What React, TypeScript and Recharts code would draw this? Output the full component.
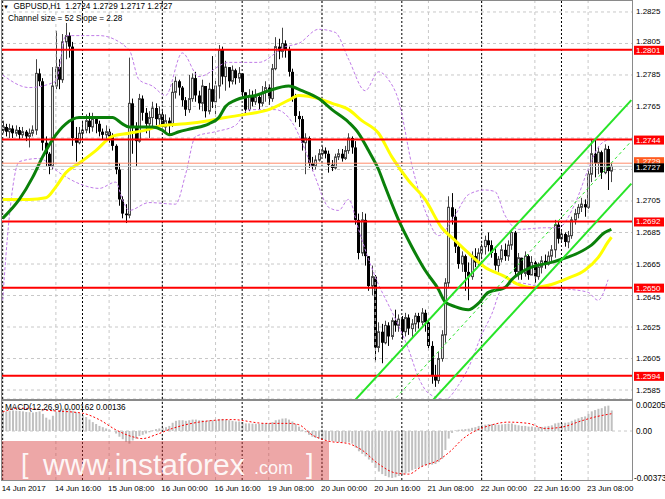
import React from 'react';
import { Bar, CartesianGrid, ComposedChart, Line, ReferenceLine, XAxis, YAxis } from 'recharts';

const FONT = "'Liberation Sans', Arial, sans-serif";

// hourly GBPUSD bars, 14 Jun 00:00 .. 23 Jun 13:00 (open = previous close)
const firstOpen = 1.275;
const closes = [
  1.2752, 1.2749, 1.2751, 1.2748, 1.2750, 1.2747, 1.2749, 1.2746, 1.2748, 1.2750,
  1.2786, 1.2781, 1.2742, 1.2735, 1.2727, 1.2778, 1.2790, 1.2782, 1.2806, 1.2810,
  1.2803, 1.2745, 1.2742, 1.2748, 1.2750, 1.2756, 1.2752, 1.2757, 1.2754, 1.2749,
  1.2747, 1.2749, 1.2746, 1.2740, 1.2725, 1.2706, 1.2697, 1.2696, 1.2767, 1.2752,
  1.2743, 1.2770, 1.2761, 1.2754, 1.2758, 1.2764, 1.2757, 1.2760, 1.2752, 1.2756,
  1.2754, 1.2774, 1.2781, 1.2777, 1.2769, 1.2763, 1.2770, 1.2783, 1.2772, 1.2767,
  1.2778, 1.2762, 1.2776, 1.2768, 1.2778, 1.2801, 1.2784, 1.2790, 1.2781, 1.2788,
  1.2783, 1.2786, 1.2774, 1.2763, 1.2772, 1.2768, 1.2771, 1.2767, 1.2774, 1.2777,
  1.2770, 1.2789, 1.2803, 1.2800, 1.2805, 1.2801, 1.2787, 1.2771, 1.2759, 1.2757,
  1.2742, 1.2745, 1.2729, 1.2727, 1.2731, 1.2735, 1.2737, 1.2735, 1.2728, 1.2726,
  1.2733, 1.2735, 1.2732, 1.2737, 1.2745, 1.2739, 1.2693, 1.2672, 1.2693, 1.2670,
  1.2651, 1.2657, 1.2612, 1.2622, 1.2615, 1.2626, 1.2619, 1.2629, 1.2626, 1.2630,
  1.2622, 1.2631, 1.2624, 1.2627, 1.2632, 1.2628, 1.2634, 1.2628, 1.2613, 1.2594,
  1.2591, 1.2605, 1.2620, 1.2653, 1.2701, 1.2695, 1.2676, 1.2665, 1.2670, 1.2660,
  1.2657, 1.2670, 1.2666, 1.2672, 1.2676, 1.2680, 1.2677, 1.2672, 1.2664, 1.2668,
  1.2674, 1.2670, 1.2677, 1.2685, 1.2660, 1.2669, 1.2659, 1.2670, 1.2658, 1.2666,
  1.2657, 1.2663, 1.2667, 1.2665, 1.2670, 1.2674, 1.2690, 1.2681, 1.2684, 1.2679,
  1.2683, 1.2693, 1.2697, 1.2701, 1.2703, 1.2701, 1.2722, 1.2735, 1.2729, 1.2736,
  1.2723, 1.2738, 1.2724, 1.2727,
];
const highs = [
  1.2756, 1.2754, 1.2754, 1.2753, 1.2753, 1.2752, 1.2752, 1.2750, 1.2751, 1.2753,
  1.2795, 1.2789, 1.2783, 1.2746, 1.2736, 1.2790, 1.2813, 1.2795, 1.2811, 1.2818,
  1.2812, 1.2806, 1.2752, 1.2752, 1.2756, 1.2760, 1.2761, 1.2761, 1.2758, 1.2756,
  1.2751, 1.2753, 1.2751, 1.2748, 1.2741, 1.2729, 1.2708, 1.2703, 1.2796, 1.2770,
  1.2755, 1.2773, 1.2772, 1.2764, 1.2762, 1.2768, 1.2767, 1.2765, 1.2762, 1.2760,
  1.2758, 1.2780, 1.2784, 1.2782, 1.2778, 1.2771, 1.2785, 1.2786, 1.2787, 1.2775,
  1.2782, 1.2778, 1.2780, 1.2797, 1.2782, 1.2804, 1.2803, 1.2794, 1.2790, 1.2791,
  1.2789, 1.2790, 1.2786, 1.2774, 1.2776, 1.2775, 1.2776, 1.2773, 1.2778, 1.2781,
  1.2779, 1.2792, 1.2809, 1.2808, 1.2815, 1.2807, 1.2803, 1.2789, 1.2773, 1.2762,
  1.2759, 1.2748, 1.2746, 1.2733, 1.2734, 1.2738, 1.2740, 1.2739, 1.2737, 1.2731,
  1.2735, 1.2738, 1.2738, 1.2740, 1.2748, 1.2746, 1.2743, 1.2697, 1.2698, 1.2697,
  1.2670, 1.2664, 1.2658, 1.2628, 1.2627, 1.2629, 1.2628, 1.2631, 1.2636, 1.2633,
  1.2632, 1.2634, 1.2633, 1.2630, 1.2634, 1.2634, 1.2637, 1.2636, 1.2630, 1.2616,
  1.2601, 1.2609, 1.2623, 1.2656, 1.2708, 1.2710, 1.2700, 1.2678, 1.2673, 1.2671,
  1.2666, 1.2673, 1.2675, 1.2675, 1.2678, 1.2683, 1.2685, 1.2680, 1.2676, 1.2670,
  1.2677, 1.2678, 1.2680, 1.2687, 1.2686, 1.2672, 1.2669, 1.2673, 1.2671, 1.2670,
  1.2667, 1.2666, 1.2670, 1.2671, 1.2673, 1.2677, 1.2693, 1.2692, 1.2686, 1.2685,
  1.2686, 1.2695, 1.2700, 1.2703, 1.2707, 1.2706, 1.2725, 1.2744, 1.2744, 1.2739,
  1.2737, 1.2741, 1.2740, 1.2729,
];
const lows = [
  1.2748, 1.2746, 1.2745, 1.2745, 1.2746, 1.2744, 1.2745, 1.2743, 1.2739, 1.2746,
  1.2747, 1.2778, 1.2737, 1.2727, 1.2722, 1.2725, 1.2776, 1.2776, 1.2780, 1.2795,
  1.2796, 1.2740, 1.2730, 1.2741, 1.2745, 1.2748, 1.2748, 1.2749, 1.2748, 1.2746,
  1.2744, 1.2743, 1.2742, 1.2737, 1.2722, 1.2702, 1.2694, 1.2691, 1.2694, 1.2735,
  1.2727, 1.2742, 1.2756, 1.2748, 1.2745, 1.2752, 1.2753, 1.2752, 1.2749, 1.2748,
  1.2747, 1.2752, 1.2770, 1.2772, 1.2765, 1.2759, 1.2761, 1.2768, 1.2768, 1.2763,
  1.2762, 1.2758, 1.2760, 1.2764, 1.2760, 1.2770, 1.2779, 1.2775, 1.2777, 1.2779,
  1.2779, 1.2780, 1.2771, 1.2760, 1.2762, 1.2765, 1.2766, 1.2763, 1.2765, 1.2768,
  1.2766, 1.2768, 1.2788, 1.2795, 1.2796, 1.2796, 1.2784, 1.2768, 1.2755, 1.2752,
  1.2737, 1.2722, 1.2726, 1.2724, 1.2725, 1.2730, 1.2733, 1.2732, 1.2723, 1.2724,
  1.2725, 1.2731, 1.2730, 1.2731, 1.2735, 1.2735, 1.2690, 1.2668, 1.2670, 1.2664,
  1.2648, 1.2645, 1.2603, 1.2609, 1.2602, 1.2614, 1.2613, 1.2617, 1.2622, 1.2622,
  1.2617, 1.2619, 1.2620, 1.2618, 1.2622, 1.2624, 1.2626, 1.2622, 1.2610, 1.2589,
  1.2587, 1.2589, 1.2603, 1.2615, 1.2650, 1.2690, 1.2672, 1.2662, 1.2660, 1.2648,
  1.2642, 1.2655, 1.2663, 1.2664, 1.2669, 1.2671, 1.2673, 1.2669, 1.2661, 1.2660,
  1.2666, 1.2667, 1.2667, 1.2674, 1.2657, 1.2655, 1.2655, 1.2657, 1.2655, 1.2658,
  1.2653, 1.2655, 1.2659, 1.2662, 1.2664, 1.2666, 1.2669, 1.2678, 1.2679, 1.2676,
  1.2675, 1.2681, 1.2690, 1.2694, 1.2698, 1.2695, 1.2700, 1.2717, 1.2720, 1.2722,
  1.2719, 1.2722, 1.2712, 1.2717,
];

// moving averages and bands at sample bars: [bar, price]
const greenMa = [
  [0, 1.2694], [5, 1.2706], [9, 1.272], [12, 1.2733], [15, 1.2744], [19, 1.2754], [23, 1.2758],
  [29, 1.2758], [33, 1.2758], [36, 1.2754], [38, 1.2752], [45, 1.2752], [48, 1.275], [50, 1.2747],
  [53, 1.2749], [57, 1.2751], [62, 1.2754], [65, 1.2758], [67, 1.2765], [70, 1.2769], [73, 1.2771],
  [76, 1.2772], [80, 1.2775], [86, 1.2778], [90, 1.2775], [95, 1.277], [99, 1.2763], [104, 1.2755],
  [107, 1.2748], [110, 1.2737], [113, 1.2725], [115, 1.2714], [119, 1.2693], [123, 1.2676],
  [127, 1.2661], [131, 1.2649], [133, 1.2641], [136, 1.2638], [140, 1.2636], [143, 1.264],
  [146, 1.2647], [151, 1.265], [153, 1.2655], [159, 1.2663], [165, 1.2666], [168, 1.2668],
  [173, 1.2672], [177, 1.2677], [181, 1.2685], [183, 1.2687],
];
const yellowMa = [
  [0, 1.2706], [8, 1.2706], [13, 1.2707], [16, 1.2714], [19, 1.2723], [23, 1.2729], [28, 1.2737],
  [33, 1.2746], [38, 1.2748], [43, 1.275], [48, 1.2753], [55, 1.2754], [62, 1.2756], [67, 1.2758],
  [73, 1.276], [76, 1.2761], [80, 1.2763], [86, 1.2769], [89, 1.2772], [95, 1.277], [99, 1.2767],
  [104, 1.2763], [108, 1.2756], [113, 1.2748], [117, 1.2733], [122, 1.2718], [127, 1.2706],
  [132, 1.2688], [136, 1.268], [140, 1.2672], [145, 1.2663], [151, 1.2657], [155, 1.2652],
  [159, 1.265], [165, 1.2652], [170, 1.2656], [175, 1.2661], [179, 1.2669], [182, 1.2679], [183, 1.2682],
];
const bandUpper = [
  [0, 1.2785], [8, 1.2777], [16, 1.2781], [19, 1.281], [29, 1.281], [38, 1.2801], [41, 1.2782],
  [45, 1.2778], [49, 1.2772], [54, 1.2799], [59, 1.2784], [68, 1.2793], [77, 1.2793], [85, 1.2803],
  [89, 1.2805], [95, 1.2814], [100, 1.2812], [104, 1.2795], [109, 1.2775], [113, 1.2787],
  [116, 1.2782], [119, 1.2769], [123, 1.2728], [127, 1.2699], [131, 1.2683], [136, 1.2696],
  [140, 1.2709], [145, 1.2712], [148, 1.2711], [151, 1.2696], [155, 1.2687], [163, 1.2688],
  [167, 1.2688], [172, 1.2703], [176, 1.2725], [179, 1.2739], [182, 1.2744],
];
const bandLower = [
  [0, 1.2642], [2, 1.2695], [5, 1.273], [11, 1.2732], [17, 1.2723], [23, 1.2716], [29, 1.2713],
  [34, 1.2717], [36, 1.2706], [38, 1.2699], [44, 1.2704], [52, 1.2703], [55, 1.2722], [58, 1.2746],
  [64, 1.2749], [70, 1.2753], [74, 1.2763], [82, 1.2763], [87, 1.2755], [91, 1.2737], [94, 1.272],
  [98, 1.2701], [101, 1.2699], [104, 1.2706], [107, 1.2687], [110, 1.2668], [113, 1.2652],
  [116, 1.2639], [119, 1.2626], [122, 1.2611], [125, 1.2593], [128, 1.2583], [133, 1.2579],
  [137, 1.2588], [140, 1.2599], [144, 1.262], [147, 1.2633], [150, 1.2649], [155, 1.2653],
  [163, 1.265], [170, 1.2649], [176, 1.2647], [179, 1.2642], [182, 1.2655],
];
// regression channel end points
const chanUpper = [[100, 1.2565], [189, 1.2769]];
const chanMid = [[100, 1.2538], [189, 1.2743]];
const chanLower = [[100, 1.2511], [189, 1.2716]];

const macdHist = [
  0.0015, 0.00155, 0.0016, 0.00162, 0.0016, 0.00158, 0.00155, 0.0015, 0.00148, 0.00145,
  0.0015, 0.00155, 0.00135, 0.00105, 0.0009, 0.0012, 0.0015, 0.00165, 0.00175, 0.0018,
  0.00178, 0.0016, 0.0015, 0.0014, 0.00125, 0.0011, 0.0009, 0.0007, 0.00055, 0.0004,
  0.0003, 0.0002, 0.0001, 0.0, -0.0002, -0.00045, -0.00065, -0.00085, -0.001, -0.00075,
  -0.0006, -0.0004, -0.0003, -0.0002, -0.0001, 0.00005, 0.00015, 0.0002, 0.00025, 0.0003,
  0.0004, 0.00065, 0.0008, 0.00085, 0.00085, 0.0008, 0.00085, 0.0009, 0.0009, 0.00085,
  0.00085, 0.0008, 0.00085, 0.00085, 0.00085, 0.00095, 0.00095, 0.0009, 0.00085, 0.0008,
  0.00075, 0.00075, 0.0007, 0.0006, 0.0006, 0.00058, 0.00058, 0.00055, 0.0006, 0.0006,
  0.00062, 0.0007, 0.00085, 0.0009, 0.00098, 0.001, 0.0009, 0.00075, 0.00055, 0.00035,
  0.0001, -0.0001, -0.0003, -0.00045, -0.00055, -0.0006, -0.00065, -0.0007, -0.00075, -0.0008,
  -0.00085, -0.00088, -0.0009, -0.0009, -0.0009, -0.001, -0.0013, -0.0016, -0.0018, -0.002,
  -0.00225, -0.0025, -0.0029, -0.0032, -0.0034, -0.00355, -0.00365, -0.0037, -0.00365, -0.00355,
  -0.00345, -0.00335, -0.00325, -0.0031, -0.003, -0.0029, -0.0028, -0.0027, -0.00265, -0.00265,
  -0.0026, -0.00245, -0.0022, -0.0015, -0.0006, -0.00015, 0.00005, 0.0001, 0.00012, 0.00015,
  0.00018, 0.00025, 0.0003, 0.0004, 0.00045, 0.0005, 0.00055, 0.00055, 0.00052, 0.0005,
  0.00052, 0.00055, 0.00058, 0.0006, 0.0005, 0.00045, 0.0004, 0.0004, 0.00035, 0.00035,
  0.0003, 0.0003, 0.00032, 0.00035, 0.0004, 0.00045, 0.0006, 0.00065, 0.00065, 0.00065,
  0.00068, 0.0008, 0.0009, 0.001, 0.0011, 0.00115, 0.00135, 0.00155, 0.00165, 0.00175,
  0.0018, 0.00195, 0.002, 0.00162,
];
const macdSignal = [
  [0, 0.0015], [5, 0.0018], [15, 0.0016], [24, 0.0014], [29, 0.0009], [34, 0.0001], [39, -0.00045],
  [42, -0.0006], [46, -0.0003], [51, 0.0002], [59, 0.0007], [69, 0.0009], [79, 0.0006], [86, 0.0006],
  [89, 0.0005], [93, -0.0003], [98, -0.0008], [104, -0.001], [108, -0.0015], [113, -0.0026],
  [118, -0.0033], [122, -0.0034], [126, -0.0028], [131, -0.0023], [135, -0.0015], [138, -0.0007],
  [142, 0.0], [146, 0.0004], [152, 0.0007], [158, 0.0006], [163, 0.0002], [168, 0.0003],
  [174, 0.0008], [178, 0.0011], [183, 0.00136],
];

const dateLabels = [
  '14 Jun 2017', '14 Jun 16:00', '15 Jun 08:00', '16 Jun 00:00', '16 Jun 16:00', '19 Jun 08:00',
  '20 Jun 00:00', '20 Jun 16:00', '21 Jun 08:00', '22 Jun 00:00', '22 Jun 16:00', '23 Jun 08:00',
];
const priceTicks = [1.2585, 1.2605, 1.2625, 1.2645, 1.2665, 1.2685, 1.2705, 1.2725, 1.2745, 1.2765, 1.2785, 1.2805, 1.2825];
// tick labels that sit under a price tag on the right scale
const coveredTicks = [1.2725, 1.2745];
const levels = [1.2801, 1.2744, 1.2692, 1.265, 1.2594];
const macdTicks = [0.00205, 0, -0.00373];
const gridBars = [0, 16, 32, 48, 64, 80, 96, 112, 128, 144, 160, 176];
const dayBars = [0, 24, 48, 72, 96, 120, 144, 168];

const SLOTS = 190;
const rows: Record<string, any>[] = Array.from({ length: SLOTS }, (_, i) => {
  if (i >= closes.length) return { i };
  const o = i === 0 ? firstOpen : closes[i - 1];
  return { i, o, h: highs[i], l: lows[i], c: closes[i], range: [lows[i], highs[i]], hist: macdHist[i] };
});
const put = (pts: number[][], key: string) => pts.forEach(([i, v]) => { rows[i][key] = v; });
put(greenMa, 'ma1');
put(yellowMa, 'ma2');
put(bandUpper, 'bbU');
put(bandLower, 'bbL');
put(chanUpper, 'chU');
put(chanMid, 'chM');
put(chanLower, 'chL');
put(macdSignal, 'sig');

function Candle(props: any) {
  const { x, width, payload } = props;
  let { y, height } = props;
  if (!payload || payload.o == null || y == null) return null;
  if (height < 0) { y += height; height = -height; }
  const { o, h, l, c } = payload;
  const k = height / Math.max(h - l, 1e-7);
  const cx = Math.round(x + width / 2);
  const top = y + (h - Math.max(o, c)) * k;
  const bot = y + (h - Math.min(o, c)) * k;
  const up = c >= o;
  return (
    <g>
      <line x1={cx + 0.5} x2={cx + 0.5} y1={y} y2={y + height} stroke={up ? '#444' : '#000'} strokeWidth={1} />
      {up ? (
        <rect x={cx - 0.5} y={top} width={2} height={Math.max(bot - top, 1)} fill="#e4e4e4" stroke="#4a4a4a" strokeWidth={1} />
      ) : (
        <rect x={cx - 1} y={top} width={3} height={Math.max(bot - top, 1)} fill="#000" />
      )}
    </g>
  );
}

function PriceTick({ x, y, payload }: any) {
  const v = Number(payload.value);
  if (coveredTicks.some((t) => Math.abs(t - v) < 1e-6)) return null;
  // nudge a label away from a red price tag sitting right next to it
  const near = levels.find((lv) => Math.abs(lv - v) < 0.0007);
  const shift = near == null ? 0 : near < v ? -1.5 : 1.5;
  return (
    <text x={x} y={y + shift} dy={2.5} fontSize={8} fontFamily={FONT} fill="#000">
      {v.toFixed(4)}
    </text>
  );
}

function MacdTick({ x, y, payload }: any) {
  const v = Number(payload.value);
  return (
    <text x={v < 0 ? x - 2 : x} y={y} dy={3} fontSize={8.2} fontFamily={FONT} fill="#000">
      {v === 0 ? '0.00' : v.toFixed(5)}
    </text>
  );
}

function DateTick({ x, y, payload }: any) {
  const label = dateLabels[Math.round(payload.value / 16)];
  if (!label) return null;
  return (
    <text x={x - 1} y={y} dy={3} fontSize={8} fontFamily={FONT} fill="#000">
      {label}
    </text>
  );
}

function Tag({ viewBox, text, bg, fg = '#fff', dy = 0 }: any) {
  if (!viewBox) return null;
  const x = viewBox.x + viewBox.width + 1;
  const y = viewBox.y + dy;
  return (
    <g>
      <rect x={x} y={y - 4} width={30} height={9} fill={bg} />
      <text x={x + 2} y={y + 3} fontSize={8} fontFamily={FONT} fill={fg}>
        {text}
      </text>
    </g>
  );
}

const frame = (top: number, height: number): React.CSSProperties => ({
  position: 'absolute', left: 1, top, width: 632, height, border: '1px solid #8a8a8a',
  boxSizing: 'border-box', pointerEvents: 'none',
});

export default function App() {
  return (
    <div style={{ position: 'absolute', left: 0, top: 0, width: 665, height: 499, background: '#fff', overflow: 'hidden', fontFamily: FONT }}>
      <div style={{ position: 'absolute', left: 0, top: 0 }}>
        <ComposedChart width={665} height={400} data={rows} margin={{ top: 0, right: 0, bottom: 1, left: 1 }} barCategoryGap={0}>
          <CartesianGrid vertical={false} stroke="#c8c8c8" strokeDasharray="3 3" />
          <XAxis dataKey="i" hide />
          <YAxis
            orientation="right"
            width={32}
            domain={[1.25793, 1.28326]}
            allowDataOverflow
            ticks={priceTicks}
            interval={0}
            tick={PriceTick}
            tickSize={1}
            tickMargin={2}
            axisLine={false}
            tickLine={false}
          />
          {gridBars.map((i) => (
            <ReferenceLine key={'g' + i} x={i} stroke="#c8c8c8" strokeDasharray="3 3" />
          ))}
          {dayBars.map((i) => (
            <ReferenceLine key={'d' + i} x={i} stroke="#000" strokeDasharray="2 2" />
          ))}
          <Bar dataKey="range" shape={Candle} isAnimationActive={false} />
          <Line dataKey="bbU" type="monotone" stroke="#c07ce8" strokeWidth={1} strokeDasharray="3 2" dot={false} activeDot={false} connectNulls isAnimationActive={false} />
          <Line dataKey="bbL" type="monotone" stroke="#c07ce8" strokeWidth={1} strokeDasharray="3 2" dot={false} activeDot={false} connectNulls isAnimationActive={false} />
          <Line dataKey="ma2" type="monotone" stroke="#ffff00" strokeWidth={3} dot={false} activeDot={false} connectNulls isAnimationActive={false} />
          <Line dataKey="ma1" type="monotone" stroke="#0a800a" strokeWidth={3} dot={false} activeDot={false} connectNulls isAnimationActive={false} />
          <ReferenceLine y={1.2729} stroke="#ff8c6a" strokeWidth={1} label={<Tag text="1.2729" bg="#ff5a1e" dy={-2} />} />
          <ReferenceLine y={1.2727} stroke="#c8c8c8" strokeWidth={1} label={<Tag text="1.2727" bg="#000" dy={1} />} />
          {levels.map((v) => (
            <ReferenceLine key={'l' + v} y={v} stroke="#ff0000" strokeWidth={2} label={<Tag text={v.toFixed(4)} bg="#ff0000" />} />
          ))}
          <Line dataKey="chU" type="linear" stroke="#28e428" strokeWidth={2} dot={false} activeDot={false} connectNulls isAnimationActive={false} />
          <Line dataKey="chL" type="linear" stroke="#28e428" strokeWidth={2} dot={false} activeDot={false} connectNulls isAnimationActive={false} />
          <Line dataKey="chM" type="linear" stroke="#28e428" strokeWidth={1} strokeDasharray="3 3" dot={false} activeDot={false} connectNulls isAnimationActive={false} />
        </ComposedChart>
      </div>
      <div style={{ position: 'absolute', left: 0, top: 400 }}>
        <ComposedChart width={665} height={99} data={rows} margin={{ top: 0, right: 0, bottom: 0, left: 1 }} barCategoryGap={0}>
          <XAxis dataKey="i" interval={15} height={19} tick={DateTick} axisLine={false} tickLine={false} />
          <YAxis
            orientation="right"
            width={32}
            domain={[-0.003863, 0.002444]}
            allowDataOverflow
            ticks={macdTicks}
            interval={0}
            tick={MacdTick}
            tickSize={1}
            tickMargin={2}
            axisLine={false}
            tickLine={false}
          />
          <ReferenceLine y={0} stroke="#c8c8c8" strokeDasharray="3 3" />
          {gridBars.map((i) => (
            <ReferenceLine key={'mg' + i} x={i} stroke="#c8c8c8" strokeDasharray="3 3" />
          ))}
          {dayBars.map((i) => (
            <ReferenceLine key={'md' + i} x={i} stroke="#000" strokeDasharray="2 2" />
          ))}
          <Bar dataKey="hist" fill="#c0c0c0" barSize={2} isAnimationActive={false} />
          <Line dataKey="sig" type="monotone" stroke="#ff0000" strokeWidth={1} strokeDasharray="2 2" dot={false} activeDot={false} connectNulls isAnimationActive={false} />
        </ComposedChart>
      </div>
      <div style={frame(0, 400)} />
      <div style={frame(400, 81)} />
      <div style={{ position: 'absolute', left: 3, top: 2, fontSize: 8.2, lineHeight: '10px', whiteSpace: 'pre', color: '#000' }}>
        <span style={{ fontSize: 6 }}>▼</span>{'  GBPUSD,H1  1.2724 1.2729 1.2717 1.2727'}
      </div>
      <div style={{ position: 'absolute', left: 8, top: 14, fontSize: 8.2, lineHeight: '10px', whiteSpace: 'pre', color: '#000' }}>
        Channel size = 52 Slope = 2.28
      </div>
      <div style={{ position: 'absolute', left: 5, top: 403, fontSize: 8.2, lineHeight: '10px', whiteSpace: 'pre', color: '#000' }}>
        MACD(12,26,9) 0.00162 0.00136
      </div>
      <div style={{ position: 'absolute', left: 2, top: 441, width: 327, height: 39, background: 'rgba(215,60,60,0.45)', color: 'rgba(255,255,255,0.92)', whiteSpace: 'pre' }}>
        <span style={{ position: 'absolute', left: 19, top: 8, fontSize: 27, lineHeight: '30px' }}>[</span>
        <span style={{ position: 'absolute', left: 41, top: 9, fontSize: 30, lineHeight: '30px' }}>www.instaforex</span>
        <span style={{ position: 'absolute', left: 252, top: 17, fontSize: 18, lineHeight: '20px' }}>.com</span>
        <span style={{ position: 'absolute', left: 304, top: 8, fontSize: 27, lineHeight: '30px' }}>]</span>
      </div>
    </div>
  );
}
